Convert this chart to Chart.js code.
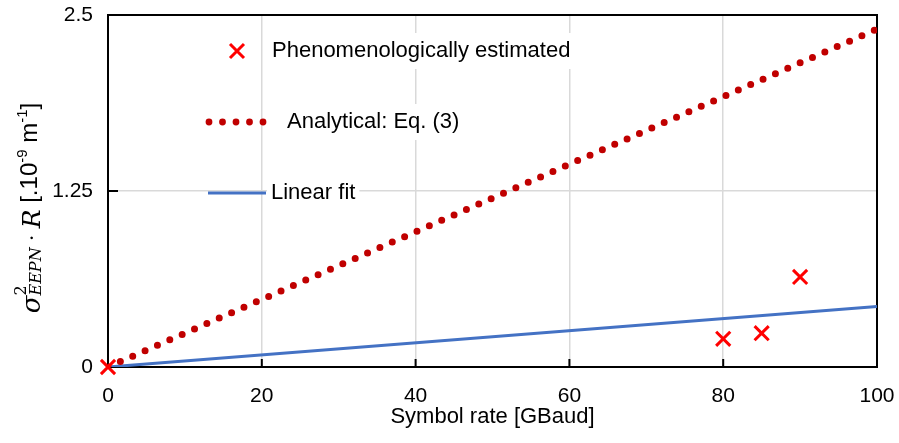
<!DOCTYPE html>
<html>
<head>
<meta charset="utf-8">
<script src="https://cdn.jsdelivr.net/npm/chart.js@4/dist/chart.umd.min.js"></script>
<style>
  html, body { margin: 0; padding: 0; background: #fff; }
  #wrap { width: 899px; height: 443px; }
</style>
</head>
<body>
<div id="wrap"><canvas id="chart" width="899" height="443"></canvas></div>
<script>
// symbol rate [GBaud] vs sigma^2 * R [1e-9 m^-1]
const estimatedRate = [0, 80, 85, 90];
const estimatedValue = [0, 0.2, 0.24, 0.64];
const analyticalRate = [0, 20, 40, 60, 80, 100];
const analyticalValue = [0, 0.48, 0.96, 1.44, 1.92, 2.4];
const fitRate = [0, 100];
const fitValue = [0, 0.43];
const xTicks = [0, 20, 40, 60, 80, 100];
const yTicks = [0, 1.25, 2.5];
const legendLabels = ['Phenomenologically estimated', 'Analytical: Eq. (3)', 'Linear fit'];

const SANS = '"Liberation Sans", Arial, sans-serif';
const MATH = '"DejaVu Serif", "Liberation Serif", serif';
const RED = '#ff0000';
const DARKRED = '#c00000';
const BLUE = '#4472c4';
const GRID = '#d9d9d9';

function pts(xs, ys) {
  return xs.map((x, i) => ({ x: x, y: ys[i] }));
}

// legend, frame, inner tick marks
const decorations = {
  id: 'decorations',
  beforeDatasetsDraw(chart) {
    const ctx = chart.ctx;
    const area = chart.chartArea;
    const xs = chart.scales.x, ys = chart.scales.y;

    // legend inside the plot
    ctx.save();
    ctx.font = '22px ' + SANS;
    ctx.textBaseline = 'middle';
    const rows = [
      { tx: 272, ty: 51 },
      { tx: 287, ty: 122 },
      { tx: 271, ty: 193 }
    ];
    rows.forEach((r, i) => {
      const w = ctx.measureText(legendLabels[i]).width;
      ctx.fillStyle = '#fff';
      ctx.fillRect(r.tx - 4, r.ty - 18, w + 8, 36);
    });
    // X marker
    ctx.strokeStyle = RED;
    ctx.lineWidth = 3;
    ctx.beginPath();
    ctx.moveTo(230, 44); ctx.lineTo(244, 58);
    ctx.moveTo(244, 44); ctx.lineTo(230, 58);
    ctx.stroke();
    // dotted line sample
    ctx.fillStyle = DARKRED;
    for (let k = 0; k < 5; k++) {
      ctx.beginPath();
      ctx.arc(209 + k * 13.5, 122, 3.4, 0, Math.PI * 2);
      ctx.fill();
    }
    // solid line sample
    ctx.strokeStyle = BLUE;
    ctx.lineWidth = 3;
    ctx.beginPath();
    ctx.moveTo(208, 193); ctx.lineTo(266, 193);
    ctx.stroke();
    ctx.fillStyle = '#000';
    rows.forEach((r, i) => ctx.fillText(legendLabels[i], r.tx, r.ty));

    // frame
    ctx.strokeStyle = '#000';
    ctx.lineWidth = 2;
    ctx.strokeRect(area.left, area.top, area.right - area.left, area.bottom - area.top);

    // tick marks pointing inwards
    ctx.beginPath();
    xTicks.forEach(v => {
      const px = xs.getPixelForValue(v);
      ctx.moveTo(px, area.bottom);
      ctx.lineTo(px, area.bottom - 8);
    });
    yTicks.forEach(v => {
      const py = ys.getPixelForValue(v);
      ctx.moveTo(area.left, py);
      ctx.lineTo(area.left + 10, py);
    });
    ctx.stroke();
    ctx.restore();
  },
  afterDraw(chart) {
    // y axis title with sub/superscripts
    const ctx = chart.ctx;
    const parts = [
      { t: '\u03C3', f: 'italic 26px ' + MATH, dy: 3 },
      { t: '2', f: '16px ' + MATH, dy: -11, sub: { t: 'EEPN', f: 'italic 16px ' + MATH, dy: 4 } },
      { t: ' \u00B7 ', f: '20px ' + MATH, dy: 2 },
      { t: 'R', f: 'italic 25px ' + MATH, dy: 3 },
      { t: ' [.10', f: '24px ' + SANS, dy: 0 },
      { t: '-9', f: '15px ' + SANS, dy: -10 },
      { t: ' m', f: '24px ' + SANS, dy: 0 },
      { t: '-1', f: '15px ' + SANS, dy: -10 },
      { t: ']', f: '24px ' + SANS, dy: 0 }
    ];
    ctx.save();
    let total = 0;
    parts.forEach(p => {
      ctx.font = p.f;
      p.w = ctx.measureText(p.t).width;
      if (p.sub) {
        ctx.font = p.sub.f;
        p.w = Math.max(p.w, ctx.measureText(p.sub.t).width);
      }
      total += p.w;
    });
    ctx.translate(37, 208);
    ctx.rotate(-Math.PI / 2);
    ctx.fillStyle = '#000';
    ctx.textBaseline = 'alphabetic';
    let x = -total / 2;
    parts.forEach(p => {
      ctx.font = p.f;
      ctx.fillText(p.t, x, p.dy);
      if (p.sub) {
        ctx.font = p.sub.f;
        ctx.fillText(p.sub.t, x, p.sub.dy);
      }
      x += p.w;
    });
    ctx.restore();
  }
};

new Chart(document.getElementById('chart'), {
  type: 'scatter',
  data: {
    datasets: [
      {
        label: legendLabels[0],
        data: pts(estimatedRate, estimatedValue),
        pointStyle: 'crossRot',
        pointRadius: 10,
        pointBorderWidth: 3,
        borderColor: RED,
        backgroundColor: RED,
        clip: false
      },
      {
        label: legendLabels[1],
        data: pts(analyticalRate, analyticalValue),
        showLine: true,
        borderColor: DARKRED,
        borderWidth: 7,
        borderDash: [0, 13.5],
        borderCapStyle: 'round',
        pointRadius: 0
      },
      {
        label: legendLabels[2],
        data: pts(fitRate, fitValue),
        showLine: true,
        borderColor: BLUE,
        borderWidth: 3,
        pointRadius: 0
      }
    ]
  },
  options: {
    responsive: false,
    animation: false,
    layout: { padding: { top: 15, right: 22, left: 0, bottom: 0 } },
    plugins: {
      legend: { display: false },
      tooltip: { enabled: false }
    },
    scales: {
      x: {
        type: 'linear',
        min: 0,
        max: 100,
        afterBuildTicks: s => { s.ticks = xTicks.map(v => ({ value: v })); },
        afterFit: s => { s.height = 76; s.paddingLeft = 0; s.paddingRight = 0; },
        grid: { color: GRID, lineWidth: 1.5, drawTicks: false },
        border: { display: false },
        ticks: { color: '#000', padding: 17, font: { family: SANS, size: 21 } },
        title: {
          display: true,
          text: 'Symbol rate [GBaud]',
          color: '#000',
          font: { family: SANS, size: 22 },
          padding: { top: 0, bottom: 13 }
        }
      },
      y: {
        type: 'linear',
        min: 0,
        max: 2.5,
        afterBuildTicks: s => { s.ticks = yTicks.map(v => ({ value: v })); },
        afterFit: s => { s.width = 108; s.paddingTop = 0; s.paddingBottom = 0; },
        grid: { color: GRID, lineWidth: 1.5, drawTicks: false },
        border: { display: false },
        ticks: {
          color: '#000',
          padding: 15,
          font: { family: SANS, size: 21 },
          callback: v => String(v)
        }
      }
    }
  },
  plugins: [decorations]
});
</script>
</body>
</html>
